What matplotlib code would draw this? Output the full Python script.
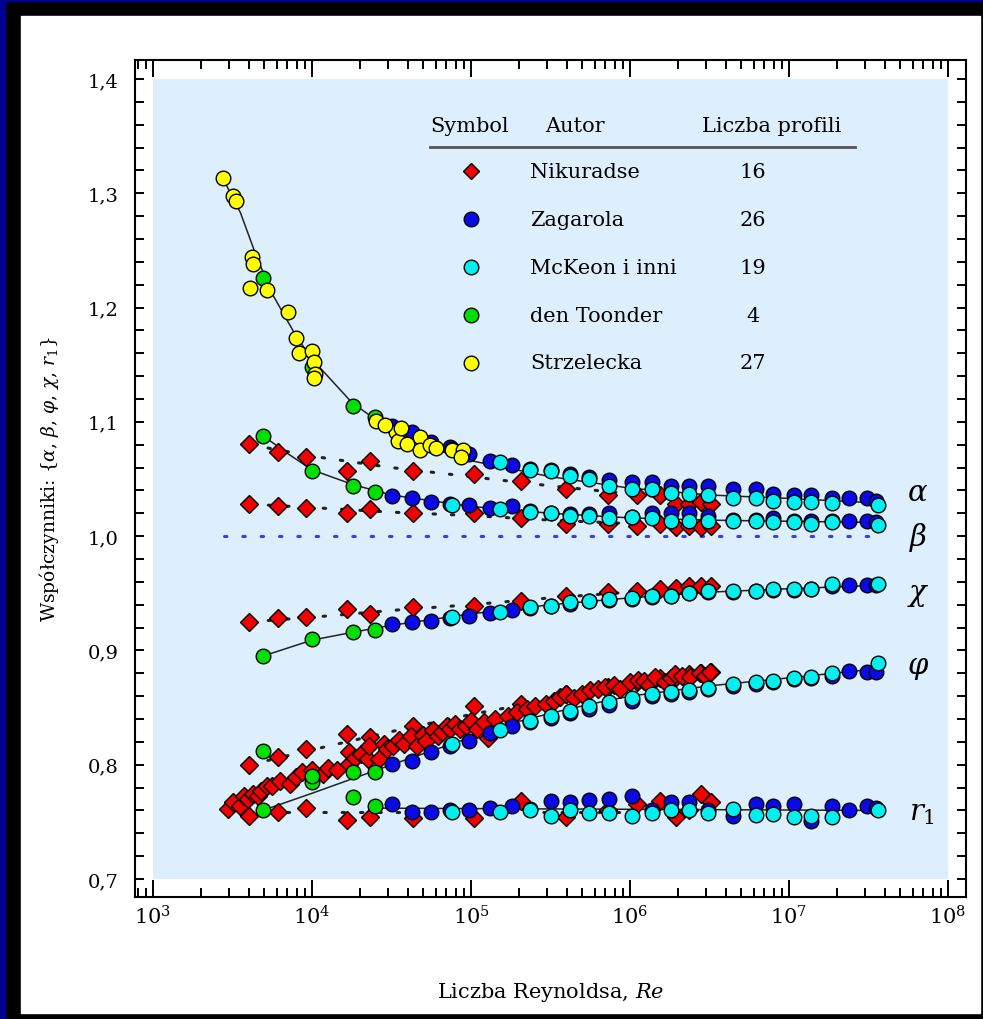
import numpy as np
import matplotlib
matplotlib.use("Agg")
import matplotlib.pyplot as plt
from matplotlib.patches import Rectangle
from matplotlib.ticker import LogLocator, MultipleLocator, NullFormatter, FuncFormatter

plt.rcParams['font.family'] = ['DejaVu Serif']
plt.rcParams['mathtext.fontset'] = 'dejavuserif'

# ---------------- data ----------------
# Nikuradse (red diamonds), 16 profiles
nik_re = [4000, 6100, 9200, 16700, 23300, 43400, 105000, 205000, 396000,
          725000, 1110000, 1536000, 1959000, 2350000, 2790000, 3240000]
nik_alpha = [1.081, 1.074, 1.069, 1.057, 1.066, 1.057, 1.054, 1.048, 1.041,
             1.036, 1.036, 1.036, 1.028, 1.028, 1.030, 1.028]
nik_beta = [1.028, 1.026, 1.025, 1.020, 1.024, 1.020, 1.020, 1.016, 1.011,
            1.011, 1.009, 1.011, 1.008, 1.009, 1.008, 1.009]
nik_chi = [0.925, 0.928, 0.929, 0.936, 0.932, 0.938, 0.939, 0.943, 0.948,
           0.951, 0.952, 0.954, 0.955, 0.956, 0.956, 0.956]
nik_phi = [0.800, 0.807, 0.814, 0.827, 0.824, 0.834, 0.851, 0.853, 0.862,
           0.868, 0.872, 0.876, 0.877, 0.879, 0.880, 0.881]
nik_r1 = [0.755, 0.759, 0.762, 0.752, 0.754, 0.753, 0.753, 0.768, 0.754,
          0.760, 0.766, 0.768, 0.754, 0.760, 0.774, 0.767]
# dense band of extra Nikuradse points
nik_band_log10re = [3.47, 3.50, 3.55, 3.57, 3.60, 3.63, 3.66, 3.68, 3.72, 3.75,
                    3.80, 3.86, 3.90, 3.94, 4.00, 4.07, 4.10, 4.16, 4.23, 4.23,
                    4.27, 4.31, 4.35, 4.36, 4.42, 4.45, 4.47, 4.51, 4.55, 4.58,
                    4.62, 4.66, 4.70, 4.72, 4.76, 4.79, 4.82, 4.85, 4.87, 4.90,
                    4.93, 4.97, 5.00, 5.04, 5.08, 5.11, 5.15, 5.23, 5.29, 5.35,
                    5.40, 5.47, 5.52, 5.56, 5.60, 5.65, 5.70, 5.75, 5.80, 5.84,
                    5.90, 5.94, 6.00, 6.05, 6.09, 6.12, 6.16, 6.22, 6.26, 6.28,
                    6.33, 6.38, 6.44, 6.47, 6.50]
nik_band = [0.761, 0.767, 0.764, 0.773, 0.770, 0.774, 0.773, 0.777, 0.781, 0.781,
            0.786, 0.783, 0.789, 0.794, 0.795, 0.792, 0.797, 0.795, 0.801, 0.811,
            0.806, 0.809, 0.805, 0.816, 0.805, 0.818, 0.814, 0.816, 0.822, 0.818,
            0.825, 0.816, 0.826, 0.821, 0.830, 0.825, 0.829, 0.834, 0.831, 0.836,
            0.831, 0.834, 0.838, 0.831, 0.837, 0.823, 0.840, 0.843, 0.846, 0.849,
            0.851, 0.853, 0.856, 0.859, 0.862, 0.858, 0.862, 0.865, 0.866, 0.868,
            0.870, 0.866, 0.872, 0.874, 0.873, 0.870, 0.877, 0.872, 0.876, 0.879,
            0.878, 0.877, 0.880, 0.878, 0.881]

# Zagarola (blue), 26 profiles
zag_log10re = [4.50, 4.63, 4.75, 4.87, 4.99, 5.12, 5.26, 5.37, 5.50, 5.62, 5.74,
               5.87, 6.01, 6.14, 6.26, 6.37, 6.49, 6.65, 6.79, 6.90, 7.03, 7.14,
               7.27, 7.38, 7.49, 7.55]
zag_alpha = [1.096, 1.091, 1.082, 1.078, 1.072, 1.066, 1.062, 1.059, 1.058, 1.054,
             1.052, 1.049, 1.047, 1.047, 1.044, 1.044, 1.044, 1.041, 1.041, 1.037,
             1.036, 1.036, 1.033, 1.033, 1.033, 1.031]
zag_beta = [1.035, 1.033, 1.030, 1.028, 1.027, 1.025, 1.026, 1.022, 1.020, 1.019,
            1.019, 1.020, 1.017, 1.020, 1.020, 1.020, 1.018, 1.014, 1.014, 1.016,
            1.013, 1.013, 1.013, 1.013, 1.013, 1.012]
zag_chi = [0.923, 0.925, 0.926, 0.928, 0.930, 0.933, 0.935, 0.937, 0.939, 0.941,
           0.943, 0.944, 0.945, 0.947, 0.948, 0.950, 0.951, 0.951, 0.952, 0.953,
           0.953, 0.954, 0.956, 0.957, 0.957, 0.957]
zag_phi = [0.801, 0.803, 0.811, 0.816, 0.821, 0.828, 0.834, 0.837, 0.841, 0.845,
           0.849, 0.852, 0.856, 0.860, 0.862, 0.864, 0.866, 0.869, 0.871, 0.872,
           0.875, 0.876, 0.878, 0.882, 0.881, 0.881]
zag_r1 = [0.766, 0.759, 0.759, 0.760, 0.760, 0.762, 0.764, 0.761, 0.768, 0.767,
          0.769, 0.770, 0.773, 0.760, 0.767, 0.767, 0.760, 0.755, 0.766, 0.764,
          0.766, 0.751, 0.764, 0.760, 0.764, 0.762]

# McKeon i inni (cyan), 19 profiles
mck_log10re = [4.88, 5.18, 5.37, 5.50, 5.62, 5.74, 5.87, 6.01, 6.14, 6.26, 6.37,
               6.49, 6.65, 6.79, 6.90, 7.03, 7.14, 7.27, 7.56]
mck_alpha = [1.076, 1.065, 1.058, 1.057, 1.053, 1.050, 1.044, 1.041, 1.041, 1.038,
             1.037, 1.036, 1.033, 1.033, 1.031, 1.030, 1.030, 1.029, 1.027]
mck_beta = [1.027, 1.024, 1.021, 1.020, 1.018, 1.018, 1.016, 1.017, 1.016, 1.013,
            1.013, 1.013, 1.013, 1.013, 1.012, 1.012, 1.011, 1.012, 1.010]
mck_chi = [0.929, 0.934, 0.938, 0.939, 0.942, 0.943, 0.945, 0.946, 0.948, 0.948,
           0.950, 0.952, 0.952, 0.952, 0.954, 0.954, 0.954, 0.958, 0.958]
mck_phi = [0.818, 0.830, 0.838, 0.843, 0.847, 0.851, 0.855, 0.858, 0.862, 0.864,
           0.865, 0.867, 0.871, 0.872, 0.873, 0.876, 0.877, 0.880, 0.889]
mck_r1 = [0.759, 0.759, 0.760, 0.755, 0.760, 0.758, 0.758, 0.755, 0.758, 0.760,
          0.760, 0.758, 0.761, 0.756, 0.757, 0.754, 0.755, 0.754, 0.760]

# den Toonder (green), 4 profiles
den_re = [4900, 10000, 18000, 25000]
den_alpha = [1.226, 1.148, 1.114, 1.104]
den_beta = [1.088, 1.057, 1.044, 1.039]
den_chi = [0.895, 0.910, 0.916, 0.918]
den_phi = [0.760, 0.785, 0.794, 0.794]
den_r1 = [0.812, 0.790, 0.772, 0.764]

# Strzelecka (yellow), 27 profiles, alpha only
strz_log10re = [3.44, 3.50, 3.52, 3.62, 3.63, 3.61, 3.72, 3.85, 3.90, 3.92, 4.00,
                4.01, 4.02, 4.01, 4.40, 4.53, 4.54, 4.60, 4.68, 4.68, 4.74, 4.78,
                4.88, 4.95, 4.94, 4.56, 4.46]
strz_alpha = [1.313, 1.298, 1.293, 1.244, 1.238, 1.217, 1.215, 1.196, 1.173, 1.160,
              1.162, 1.152, 1.142, 1.138, 1.101, 1.091, 1.083, 1.081, 1.087, 1.075,
              1.080, 1.077, 1.075, 1.075, 1.069, 1.095, 1.097]

# solid fit curves (through circle data)
fit_alpha_log = [3.44, 3.55, 3.65, 3.75, 3.90, 4.00, 4.25, 4.50, 4.75, 5.00, 5.50, 6.00, 6.50, 7.00, 7.56]
fit_alpha = [1.313, 1.283, 1.245, 1.212, 1.175, 1.155, 1.117, 1.092, 1.077, 1.066, 1.052, 1.042, 1.036, 1.033, 1.029]
fit_beta_log = [3.69, 3.85, 4.00, 4.26, 4.50, 5.00, 5.50, 6.00, 6.50, 7.00, 7.56]
fit_beta = [1.088, 1.072, 1.058, 1.045, 1.036, 1.026, 1.020, 1.016, 1.014, 1.013, 1.012]
fit_chi_log = [3.69, 4.00, 4.26, 4.50, 5.00, 5.50, 6.00, 6.50, 7.00, 7.56]
fit_chi = [0.895, 0.909, 0.916, 0.922, 0.932, 0.940, 0.946, 0.951, 0.954, 0.957]
fit_phi_log = [3.69, 4.00, 4.26, 4.50, 4.75, 5.00, 5.25, 5.50, 5.75, 6.00, 6.50, 7.00, 7.56]
fit_phi = [0.760, 0.775, 0.788, 0.800, 0.812, 0.824, 0.836, 0.845, 0.853, 0.860, 0.869, 0.876, 0.884]
fit_r1_log = [4.40, 7.56]
fit_r1 = [0.762, 0.760]

# dotted fit curves (through Nikuradse)
dot_log = [3.61, 4.00, 4.50, 5.00, 5.50, 6.00, 6.52]
dot_alpha = [1.080, 1.070, 1.060, 1.052, 1.044, 1.037, 1.030]
dot_beta = [1.028, 1.025, 1.021, 1.018, 1.014, 1.011, 1.009]
dot_chi = [0.925, 0.929, 0.935, 0.940, 0.946, 0.951, 0.955]
dot_phi = [0.800, 0.813, 0.829, 0.844, 0.857, 0.869, 0.880]
dot_r1 = [0.759, 0.759, 0.759, 0.759, 0.759, 0.759, 0.759]

ref_re = [2.8e3, 3.7e7]
ref_val = [1.0, 1.0]

authors = ['Nikuradse', 'Zagarola', 'McKeon i inni', 'den Toonder', 'Strzelecka']
profiles = ['16', '26', '19', '4', '27']
curve_names = [r'$\alpha$', r'$\beta$', r'$\chi$', r'$\varphi$', r'$r_1$']

RED, BLUE, CYAN, GREEN, YELLOW = '#f00000', '#0a0ae6', '#00f0f0', '#00e000', '#ffff00'

# ---------------- figure ----------------
W, H = 983, 1020
fig = plt.figure(figsize=(W / 100, H / 100), dpi=100, facecolor='black')
# frame decoration: navy edge, white panel
fig.patches.append(Rectangle((0, 0), 5 / W, 1, transform=fig.transFigure, color='#000090', zorder=-5))
fig.patches.append(Rectangle((0, 1 - 2 / H), 1, 2 / H, transform=fig.transFigure, color='#000090', zorder=-5))
fig.patches.append(Rectangle((21 / W, 1 - 1014 / H), (980 - 21) / W, (1014 - 17) / H,
                             transform=fig.transFigure, color='white', zorder=-5))

ax = fig.add_axes([135 / W, 1 - 898 / H, (966 - 135) / W, (898 - 61) / H])
ax.set_zorder(1)
ax.set_facecolor('none')
ax.set_xscale('log')
ax.set_xlim(10 ** (3 - 18 / 159), 10 ** (8 + 18 / 159))
ax.set_ylim(0.7 - 18 / 1142.5, 1.4 + 19 / 1142.5)
ax.add_patch(Rectangle((1e3, 0.7), 1e8 - 1e3, 0.7, color='#ddeefc', zorder=0, lw=0))

def lre(v):
    return 10 ** np.asarray(v)

# fit lines
for lx, ly in [(fit_alpha_log, fit_alpha), (fit_beta_log, fit_beta), (fit_chi_log, fit_chi),
               (fit_phi_log, fit_phi), (fit_r1_log, fit_r1)]:
    ax.plot(lre(lx), ly, color='#222222', lw=1.1, zorder=2)
for ly in [dot_alpha, dot_beta, dot_chi, dot_phi, dot_r1]:
    ax.plot(lre(dot_log), ly, color='#222222', lw=2.2, ls=(0, (0.8, 5.2)),
            dash_capstyle='round', zorder=2)
ax.plot(ref_re, ref_val, color='#3a3aff', lw=2.2, ls=(0, (0.8, 5.2)),
        dash_capstyle='round', zorder=2)

mkw = dict(ls='none', mec='black', mew=1.0, zorder=3)
dms, cms = 9.5, 10.5
for ys in [nik_alpha, nik_beta, nik_chi, nik_phi, nik_r1]:
    ax.plot(nik_re, ys, marker='D', ms=dms, mfc=RED, **mkw)
ax.plot(lre(nik_band_log10re), nik_band, marker='D', ms=dms, mfc=RED, **mkw)
for ys in [zag_alpha, zag_beta, zag_chi, zag_phi, zag_r1]:
    ax.plot(lre(zag_log10re), ys, marker='o', ms=cms, mfc=BLUE, **mkw)
for ys in [mck_alpha, mck_beta, mck_chi, mck_phi, mck_r1]:
    ax.plot(lre(mck_log10re), ys, marker='o', ms=cms, mfc=CYAN, **mkw)
for ys in [den_alpha, den_beta, den_chi, den_phi, den_r1]:
    ax.plot(den_re, ys, marker='o', ms=cms, mfc=GREEN, **mkw)
ax.plot(lre(strz_log10re), strz_alpha, marker='o', ms=cms, mfc=YELLOW, **mkw)

# ticks
ax.xaxis.set_major_locator(LogLocator(base=10, numticks=20))
ax.xaxis.set_minor_locator(LogLocator(base=10, subs=np.arange(2, 10), numticks=100))
ax.xaxis.set_minor_formatter(NullFormatter())
ax.xaxis.set_major_formatter(FuncFormatter(lambda v, p: r'$10^{%d}$' % round(np.log10(v))))
ax.yaxis.set_major_locator(MultipleLocator(0.1))
ax.yaxis.set_minor_locator(MultipleLocator(0.02))
ax.yaxis.set_major_formatter(FuncFormatter(lambda v, p: ('%.1f' % v).replace('.', ',')))
ax.tick_params(which='both', direction='in', top=True, right=True, width=1.4, colors='black')
ax.tick_params(axis='x', which='major', length=12, pad=5, labelsize=15)
ax.tick_params(axis='x', which='minor', length=6.5)
ax.tick_params(axis='y', which='both', length=6.5, pad=12, labelsize=14)
for s in ax.spines.values():
    s.set_linewidth(1.5)

ax.set_xlabel('Liczba Reynoldsa, $Re$', fontsize=15, labelpad=38)
ax.set_ylabel('Współczynniki: {$\\alpha$, $\\beta$, $\\varphi$, $\\chi$, $r_1$}', fontsize=13.5, labelpad=19)

# legend table
def axp(px, py):
    return (px - 135) / 831, (898 - py) / 837

tk = dict(transform=ax.transAxes, fontsize=15, va='center')
ax.text(*axp(430, 127), 'Symbol', ha='left', **tk)
ax.text(*axp(545, 127), 'Autor', ha='left', **tk)
ax.text(*axp(702, 127), 'Liczba profili', ha='left', **tk)
x0, yl = axp(430, 148)
x1, _ = axp(855, 148)
ax.plot([x0, x1], [yl, yl], transform=ax.transAxes, color='#555555', lw=2, zorder=4)
row_y = [172, 220, 268, 316, 364]
styles = [('D', RED, 8), ('o', BLUE, cms), ('o', CYAN, cms), ('o', GREEN, cms), ('o', YELLOW, cms)]
for ry, name, cnt, (mk, fc, ms) in zip(row_y, authors, profiles, styles):
    mx, my = axp(471, ry)
    ax.plot([mx], [my], transform=ax.transAxes, marker=mk, ms=ms, mfc=fc, mec='black', mew=1.0, ls='none')
    ax.text(*axp(530, ry), name, ha='left', **tk)
    ax.text(*axp(753, ry), cnt, ha='center', **tk)

# curve names on the right
for (px, py), nm in zip([(918, 493), (918, 537), (918, 595), (918, 668), (922, 813)], curve_names):
    ax.text(*axp(px, py), nm, transform=ax.transAxes, fontsize=21, ha='center', va='center')

fig.savefig('out.png', dpi=100, facecolor=fig.get_facecolor())
